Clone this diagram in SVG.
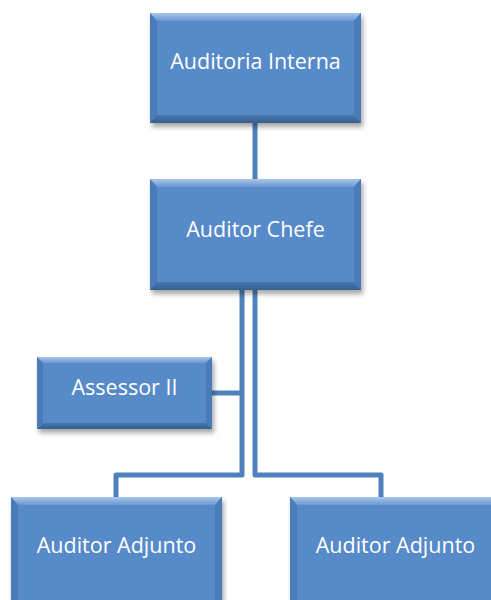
<svg xmlns="http://www.w3.org/2000/svg" width="491" height="600" viewBox="0 0 491 600">
  <defs>
    <filter id="shadow" x="-20%" y="-20%" width="140%" height="150%">
      <feGaussianBlur stdDeviation="2.5"/>
    </filter>
    <linearGradient id="topBevel" x1="0" y1="0" x2="0" y2="1">
      <stop offset="0" stop-color="#a9c6ea"/>
      <stop offset="1" stop-color="#6a97d0"/>
    </linearGradient>
    <linearGradient id="bottomBevel" x1="0" y1="0" x2="0" y2="1">
      <stop offset="0" stop-color="#4775ad"/>
      <stop offset="1" stop-color="#35608f"/>
    </linearGradient>
  </defs>
  <style>
    .shadow { fill: #000; opacity: 0.35; filter: url(#shadow); }
    .face { fill: #568ac8; }
    .top { fill: url(#topBevel); }
    .bottom { fill: url(#bottomBevel); }
    .side { fill: #4a7cbb; }
    .label { font-family: "Open Sans", "Liberation Sans", sans-serif; font-size: 21.5px; fill: #ffffff; text-anchor: middle; }
    .conn { fill: none; stroke: #4f81bd; stroke-width: 5; stroke-linejoin: round; }
  </style>

  <!-- connectors -->
  <g id="connectors">
    <path class="conn" d="M255,123 V180"/>
    <path class="conn" d="M242,290 V475 H116 V498"/>
    <path class="conn" d="M255,290 V475 H381 V498"/>
    <path class="conn" d="M211,393 H242"/>
  </g>

  <!-- Auditoria Interna -->
  <g id="auditoria-interna">
    <rect class="shadow" x="152" y="17" width="211" height="110"/>
    <rect class="face" x="150" y="13" width="211" height="110"/>
    <polygon class="top" points="150,13 361,13 354,21 157,21"/>
    <polygon class="bottom" points="150,123 361,123 354,115 157,115"/>
    <polygon class="side" points="150,13 157,21 157,115 150,123"/>
    <polygon class="side" points="361,13 354,21 354,115 361,123"/>
    <text class="label" x="255.5" y="69">Auditoria Interna</text>
  </g>

  <!-- Auditor Chefe -->
  <g id="auditor-chefe">
    <rect class="shadow" x="152" y="183" width="211" height="111"/>
    <rect class="face" x="150" y="179" width="211" height="111"/>
    <polygon class="top" points="150,179 361,179 354,187 157,187"/>
    <polygon class="bottom" points="150,290 361,290 354,282 157,282"/>
    <polygon class="side" points="150,179 157,187 157,282 150,290"/>
    <polygon class="side" points="361,179 354,187 354,282 361,290"/>
    <text class="label" x="255.5" y="237">Auditor Chefe</text>
  </g>

  <!-- Assessor II -->
  <g id="assessor-ii">
    <rect class="shadow" x="39" y="361" width="175" height="72"/>
    <rect class="face" x="37" y="357" width="175" height="72"/>
    <polygon class="top" points="37,357 212,357 206,363 43,363"/>
    <polygon class="bottom" points="37,429 212,429 206,423 43,423"/>
    <polygon class="side" points="37,357 43,363 43,423 37,429"/>
    <polygon class="side" points="212,357 206,363 206,423 212,429"/>
    <text class="label" x="124.5" y="395">Assessor II</text>
  </g>

  <!-- Auditor Adjunto (left) -->
  <g id="auditor-adjunto-1">
    <rect class="shadow" x="13" y="501" width="211" height="110"/>
    <rect class="face" x="11" y="497" width="211" height="110"/>
    <polygon class="top" points="11,497 222,497 215,505 18,505"/>
    <polygon class="side" points="11,497 18,505 18,607 11,607"/>
    <polygon class="side" points="222,497 215,505 215,607 222,607"/>
    <text class="label" x="116.5" y="553">Auditor Adjunto</text>
  </g>

  <!-- Auditor Adjunto (right) -->
  <g id="auditor-adjunto-2">
    <rect class="shadow" x="292" y="501" width="211" height="110"/>
    <rect class="face" x="290" y="497" width="211" height="110"/>
    <polygon class="top" points="290,497 501,497 494,505 297,505"/>
    <polygon class="side" points="290,497 297,505 297,607 290,607"/>
    <text class="label" x="395.5" y="553">Auditor Adjunto</text>
  </g>
</svg>
